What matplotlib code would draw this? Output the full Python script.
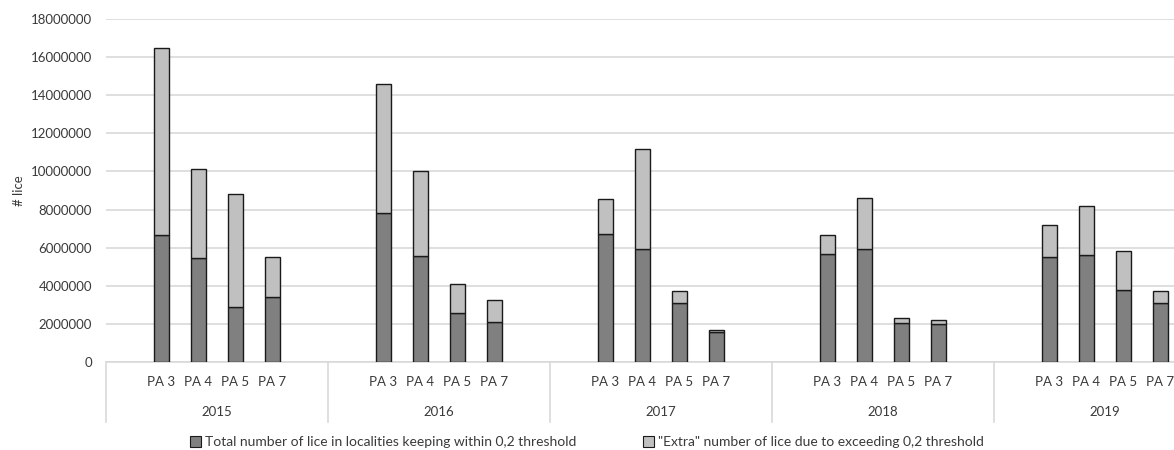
import matplotlib
matplotlib.use("Agg")
import matplotlib.pyplot as plt
from matplotlib.patches import Patch

plt.rcParams["font.family"] = ["Lato", "DejaVu Sans"]

YEARS = ["2015", "2016", "2017", "2018", "2019"]
AREAS = ["PA 3", "PA 4", "PA 5", "PA 7"]

# lice within the 0,2 threshold, per year, per area
WITHIN = [
    [6660000, 5440000, 2870000, 3430000],
    [7840000, 5560000, 2550000, 2100000],
    [6720000, 5950000, 3080000, 1570000],
    [5670000, 5950000, 2030000, 1980000],
    [5510000, 5600000, 3780000, 3110000],
]
# "extra" lice due to exceeding the threshold
EXTRA = [
    [9830000, 4690000, 5950000, 2060000],
    [6750000, 4460000, 1540000, 1150000],
    [1850000, 5210000, 630000, 130000],
    [1010000, 2660000, 260000, 210000],
    [1660000, 2570000, 2050000, 600000],
]

DARK = "#808080"
LIGHT = "#c0c0c0"
EDGE = "#1a1a1a"
TEXT = "#3a3a3a"
GRID = "#d9d9d9"

SLOTS = 6  # one empty slot each side of the four areas
BAR_WIDTH = 0.41
FONT = 9.5
LEGEND_FONT = 10

fig = plt.figure(figsize=(11.74, 4.5), dpi=100)
ax = fig.add_axes([106 / 1174, 88 / 450, 1 - 106 / 1174, 343 / 450])

xs, low, high = [], [], []
for g, year in enumerate(YEARS):
    for i, area in enumerate(AREAS):
        xs.append(g * SLOTS + 1 + i)
        low.append(WITHIN[g][i])
        high.append(EXTRA[g][i])

ax.bar(xs, low, width=BAR_WIDTH, color=DARK, edgecolor=EDGE, linewidth=1, zorder=3)
ax.bar(xs, high, bottom=low, width=BAR_WIDTH, color=LIGHT, edgecolor=EDGE,
       linewidth=1, zorder=3)

ax.set_ylim(0, 18000000)
ax.set_yticks(range(0, 18000001, 2000000))
ax.set_yticklabels([str(v) for v in range(0, 18000001, 2000000)])
ax.set_xlim(-0.5, -0.5 + (1174 - 106) / 37)
ax.set_xticks([])
ax.grid(axis="y", color=GRID, linewidth=1.2, zorder=0)
ax.tick_params(axis="y", length=0, pad=10, labelsize=FONT, labelcolor=TEXT)
for side in ["top", "right", "left"]:
    ax.spines[side].set_visible(False)
ax.spines["bottom"].set_color(GRID)
ax.spines["bottom"].set_linewidth(1.2)

ax.set_ylabel("# lice", fontsize=FONT, color=TEXT, labelpad=4)

trans = ax.get_xaxis_transform()
for g, year in enumerate(YEARS):
    for i, area in enumerate(AREAS):
        ax.text(g * SLOTS + 1 + i, -0.058, area, transform=trans, ha="center",
                va="center", fontsize=FONT, color=TEXT, clip_on=False)
    ax.text(g * SLOTS + (SLOTS - 1) / 2, -0.146, year, transform=trans,
            ha="center", va="center", fontsize=FONT, color=TEXT, clip_on=False)
    ax.plot([g * SLOTS - 0.5] * 2, [0, -0.175], transform=trans, color=GRID,
            linewidth=1.2, clip_on=False)

handles = [
    Patch(facecolor=DARK, edgecolor=EDGE, linewidth=0.8,
          label="Total number of lice in localities keeping within 0,2 threshold"),
    Patch(facecolor=LIGHT, edgecolor=EDGE, linewidth=0.8,
          label='"Extra" number of lice due to exceeding 0,2 threshold'),
]
leg = fig.legend(handles=handles, loc="center", bbox_to_anchor=(0.5, 8 / 450),
                 ncol=2, frameon=False, fontsize=LEGEND_FONT, handlelength=0.8,
                 handleheight=0.8, handletextpad=0.3, columnspacing=4.8)
for t in leg.get_texts():
    t.set_color(TEXT)

fig.savefig("out.png", dpi=100)
